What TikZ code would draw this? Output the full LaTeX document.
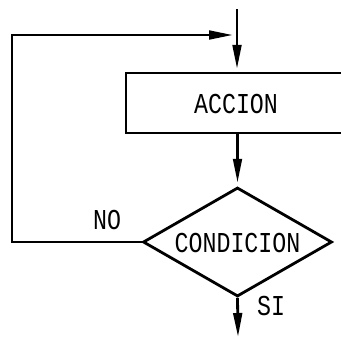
\documentclass[tikz,border=0pt]{standalone}
\usepackage{fontspec}
\newfontfamily\flowfont{Liberation Mono}
\usetikzlibrary{arrows.meta,shapes.geometric}

\begin{document}
\begin{tikzpicture}[
    x=0.75pt, y=-0.75pt,
    flow/.style={line width=2.1pt, line join=miter, -{Triangle[length=18pt,width=6.5pt]}},
    accionbox/.style={draw, line width=2.1pt, rectangle, inner sep=0pt,
        minimum width=165pt, minimum height=45pt},
    decision/.style={draw, line width=2.1pt, diamond, inner sep=0pt, aspect=1.7,
        minimum width=141.75pt, minimum height=81.75pt},
    txt/.style={font=\flowfont\fontsize{18pt}{18pt}\selectfont, inner sep=0pt,
        xscale=0.97, yscale=1.2, transform shape}
]
    \useasboundingbox (0,0) rectangle (341,339);
    \clip (0,0) rectangle (341,339);

    % Process box and decision
    \node[accionbox] (accion) at (236,103) {};
    \node[txt] (accionlbl) at (236,104) {ACCION};
    \node[decision] (cond) at (237.5,242) {};
    \node[txt] (condlbl) at (237.5,243) {CONDICION};

    % Branch labels
    \node[txt] (nolbl) at (107,220) {NO};
    \node[txt] (silbl) at (271,306) {SI};

    % Loose ends and corners of the loop
    \coordinate (entry) at (237,9);
    \coordinate (exit) at (238,337);
    \coordinate (lowcorner) at (12,242);
    \coordinate (topcorner) at (12,35);
    \coordinate (join) at (233,35);

    % Main flow
    \draw[flow, shorten >=2pt] (entry) -- (accion.north -| entry);
    \draw[flow, shorten >=2.5pt] (accion.south -| cond.north) -- (cond.north);
    \draw[flow] (cond.south) -- (exit);

    % NO branch back to the top
    \draw[flow] (cond.west) -- (lowcorner) -- (topcorner) -- (join);
\end{tikzpicture}
\end{document}
